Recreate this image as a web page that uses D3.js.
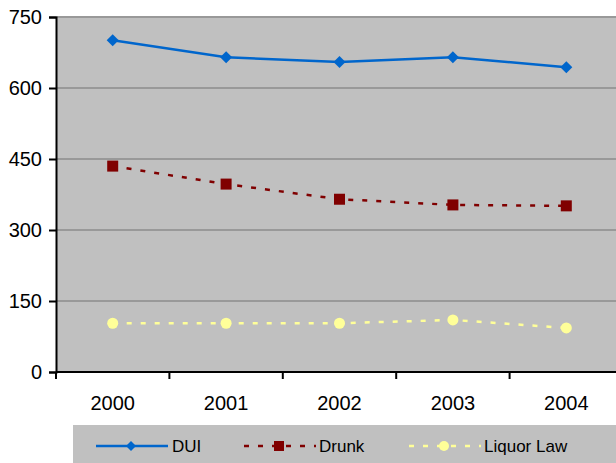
<!DOCTYPE html>
<html>
<head>
<meta charset="utf-8">
<script src="https://cdn.jsdelivr.net/npm/d3@7"></script>
<style>
body { margin: 0; background: #fff; }
text { font-family: "Liberation Sans", Arial, sans-serif; }
</style>
</head>
<body>
<div id="chart"></div>
<script>
var years = ["2000", "2001", "2002", "2003", "2004"];
var dui = [701, 665, 655, 665, 644];
var drunk = [435, 397, 365, 353, 351];
var liquor = [103, 103, 103, 110, 93];
var yTicks = [0, 150, 300, 450, 600, 750];

var series = [
  {name: "DUI", values: dui, color: "#0066cc", dash: null, marker: "diamond"},
  {name: "Drunk", values: drunk, color: "#800000", dash: "5,9", marker: "square"},
  {name: "Liquor Law", values: liquor, color: "#ffff99", dash: "5,9", marker: "circle"}
];

var W = 616, H = 463;
var margin = {top: 17, left: 56};
var plotW = 567, plotH = 355;

var svg = d3.select("#chart").append("svg")
  .attr("width", W).attr("height", H);

var x = d3.scaleBand().domain(years).range([0, plotW]);
var y = d3.scaleLinear().domain([0, 750]).range([plotH, 0]);

var g = svg.append("g")
  .attr("transform", "translate(" + margin.left + "," + margin.top + ")");

g.append("rect").attr("width", plotW).attr("height", plotH).attr("fill", "#c0c0c0");

// gridlines
g.selectAll(".grid").data(yTicks.filter(function(d) { return d > 0; })).enter()
  .append("line")
  .attr("x1", 0).attr("x2", plotW)
  .attr("y1", function(d) { return y(d); }).attr("y2", function(d) { return y(d); })
  .attr("stroke", "#999999").attr("stroke-width", 2);

// y axis
var yAxis = g.append("g")
  .call(d3.axisLeft(y).tickValues(yTicks).tickSize(7).tickPadding(7));
yAxis.select(".domain").attr("stroke", "#000").attr("stroke-width", 2);
yAxis.selectAll(".tick line").attr("stroke", "#000").attr("stroke-width", 2);
yAxis.selectAll("text").attr("font-size", 20).attr("fill", "#000");

// x axis: ticks at band boundaries
var xg = g.append("g").attr("transform", "translate(0," + plotH + ")");
xg.append("line").attr("x1", 0).attr("x2", plotW).attr("stroke", "#000").attr("stroke-width", 2);
var bounds = years.map(function(d) { return x(d); });
xg.selectAll(".xt").data(bounds).enter().append("line")
  .attr("x1", function(d) { return d; }).attr("x2", function(d) { return d; })
  .attr("y1", 0).attr("y2", 7).attr("stroke", "#000").attr("stroke-width", 2);
xg.selectAll(".xl").data(years).enter().append("text")
  .attr("x", function(d) { return x(d) + x.bandwidth() / 2; })
  .attr("y", 38).attr("text-anchor", "middle")
  .attr("font-size", 20).attr("fill", "#000")
  .text(function(d) { return d; });

function drawMarker(sel, type, color, size) {
  var h = size / 2;
  if (type === "diamond") {
    sel.append("path").attr("d", "M0," + (-h) + "L" + h + ",0L0," + h + "L" + (-h) + ",0Z").attr("fill", color);
  } else if (type === "square") {
    sel.append("rect").attr("x", -h).attr("y", -h)
      .attr("width", size).attr("height", size).attr("fill", color);
  } else {
    sel.append("circle").attr("r", h).attr("fill", color);
  }
}

var line = d3.line()
  .x(function(d, i) { return x(years[i]) + x.bandwidth() / 2; })
  .y(function(d) { return y(d); });

series.forEach(function(s) {
  g.append("path").datum(s.values)
    .attr("d", line).attr("fill", "none")
    .attr("stroke", s.color).attr("stroke-width", 2.5)
    .attr("stroke-dasharray", s.dash);
  s.values.forEach(function(v, i) {
    var m = g.append("g")
      .attr("transform", "translate(" + (x(years[i]) + x.bandwidth() / 2) + "," + y(v) + ")");
    drawMarker(m, s.marker, s.color, s.marker === "diamond" ? 12 : 11);
  });
});

// legend
var lg = svg.append("g");
lg.append("rect").attr("x", 73).attr("y", 425).attr("width", 543).attr("height", 38).attr("fill", "#c0c0c0");
var legendPos = [96, 244, 409];
var legendText = [172, 319, 484];
series.forEach(function(s, i) {
  var x0 = legendPos[i];
  lg.append("line").attr("x1", x0).attr("x2", x0 + 72).attr("y1", 446).attr("y2", 446)
    .attr("stroke", s.color).attr("stroke-width", 2.5)
    .attr("stroke-dasharray", s.dash);
  var m = lg.append("g").attr("transform", "translate(" + (x0 + 35) + ",446)");
  drawMarker(m, s.marker, s.color, s.marker === "diamond" ? 10 : 10);
  lg.append("text").attr("x", legendText[i]).attr("y", 452)
    .attr("font-size", 17).attr("fill", "#000").text(s.name);
});
</script>
</body>
</html>
